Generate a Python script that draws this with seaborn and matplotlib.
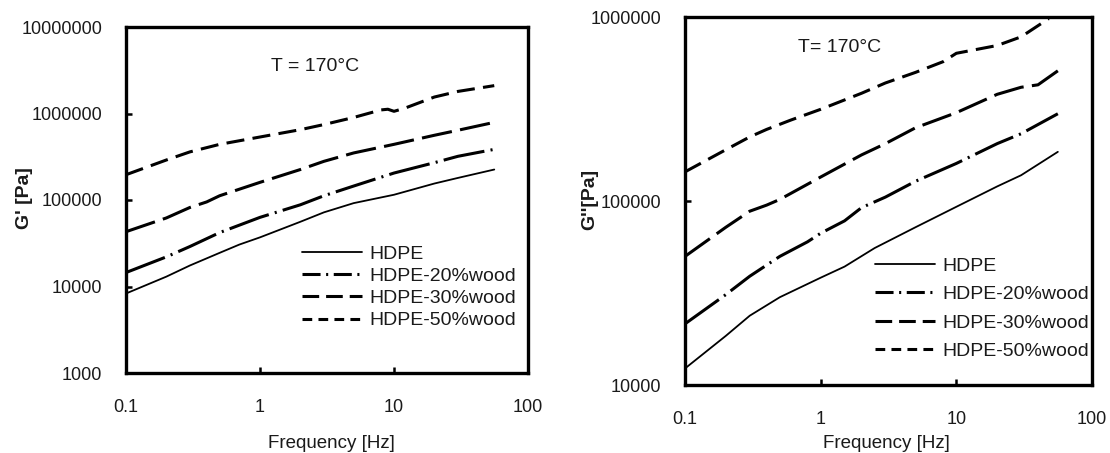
import numpy as np
import pandas as pd
import matplotlib
matplotlib.use("Agg")
import matplotlib.pyplot as plt
from matplotlib.lines import Line2D
import seaborn as sns

# ---------------- data ----------------
series_names = ["HDPE", "HDPE-20%wood", "HDPE-30%wood", "HDPE-50%wood"]

# Storage modulus G' (left panel)
gp_hdpe_f = [0.1, 0.2, 0.3, 0.5, 0.7, 1, 2, 3, 5, 10, 20, 30, 56]
gp_hdpe_v = [8300, 13000, 17500, 24500, 30500, 37000, 56000, 72000, 92000, 115000, 155000, 180000, 225000]
gp_20_f = [0.1, 0.2, 0.3, 0.5, 1, 2, 3, 5, 10, 20, 30, 56]
gp_20_v = [14500, 22000, 29000, 42000, 63000, 88000, 112000, 145000, 205000, 270000, 320000, 385000]
gp_30_f = [0.1, 0.2, 0.3, 0.4, 0.5, 1, 2, 3, 5, 10, 20, 30, 56]
gp_30_v = [43000, 62000, 82000, 95000, 112000, 160000, 225000, 280000, 350000, 440000, 560000, 640000, 790000]
gp_50_f = [0.1, 0.2, 0.3, 0.5, 1, 2, 3, 5, 8, 9, 10, 12, 20, 30, 56]
gp_50_v = [196000, 290000, 360000, 440000, 535000, 650000, 745000, 900000, 1100000, 1120000, 1060000, 1150000, 1550000, 1800000, 2100000]

# Loss modulus G'' (right panel)
gpp_hdpe_f = [0.1, 0.2, 0.3, 0.5, 1, 1.5, 2.5, 5, 10, 20, 30, 56]
gpp_hdpe_v = [12300, 18500, 23800, 30000, 38300, 44000, 55500, 72000, 93000, 120000, 138000, 185000]
gpp_20_f = [0.1, 0.2, 0.3, 0.5, 0.8, 1, 1.5, 2, 3, 5, 10, 20, 30, 56]
gpp_20_v = [21500, 31000, 39000, 50000, 60000, 66800, 78000, 92000, 105000, 128000, 160000, 205000, 232000, 298000]
gpp_30_f = [0.1, 0.2, 0.3, 0.4, 0.5, 1, 2, 3, 5, 10, 20, 30, 40, 56]
gpp_30_v = [50000, 72000, 88000, 95000, 102000, 135000, 178000, 205000, 250000, 302000, 380000, 415000, 428000, 510000]
gpp_50_f = [0.1, 0.2, 0.3, 0.4, 0.6, 1, 2, 3, 5, 8, 10, 20, 30, 48]
gpp_50_v = [144000, 190000, 223000, 245000, 275000, 315000, 385000, 438000, 500000, 572000, 635000, 700000, 780000, 980000]

x_ticks = [0.1, 1, 10, 100]
x_ticklabels = ["0.1", "1", "10", "100"]
left_yticks = [1000, 10000, 100000, 1000000, 10000000]
left_yticklabels = ["1000", "10000", "100000", "1000000", "10000000"]
right_yticks = [10000, 100000, 1000000]
right_yticklabels = ["10000", "100000", "1000000"]


def frame(fs, vs, name):
    return pd.DataFrame({"Frequency": fs, "Modulus": vs, "series": name})


left_df = pd.concat([frame(gp_hdpe_f, gp_hdpe_v, series_names[0]),
                     frame(gp_20_f, gp_20_v, series_names[1]),
                     frame(gp_30_f, gp_30_v, series_names[2]),
                     frame(gp_50_f, gp_50_v, series_names[3])])
right_df = pd.concat([frame(gpp_hdpe_f, gpp_hdpe_v, series_names[0]),
                      frame(gpp_20_f, gpp_20_v, series_names[1]),
                      frame(gpp_30_f, gpp_30_v, series_names[2]),
                      frame(gpp_50_f, gpp_50_v, series_names[3])])

# ---------------- style ----------------
sns.set_theme(style="white")
plt.rcParams["font.family"] = ["Liberation Sans", "DejaVu Sans"]
plt.rcParams["lines.scale_dashes"] = False

line_styles = {
    "HDPE": dict(ls="-", lw=1.3),
    "HDPE-20%wood": dict(ls=(0, (30, 4.5, 1.5, 4.5)), lw=2.2),
    "HDPE-30%wood": dict(ls=(0, (22, 6)), lw=2.2),
    "HDPE-50%wood": dict(ls=(0, (13, 6)), lw=2.2),
}
legend_styles = {
    "HDPE": dict(ls="-", lw=1.3),
    "HDPE-20%wood": dict(ls=(0, (13, 4, 1.5, 4)), lw=2.2),
    "HDPE-30%wood": dict(ls=(0, (12, 5)), lw=2.2),
    "HDPE-50%wood": dict(ls=(0, (7, 4.5)), lw=2.2),
}

fig = plt.figure(figsize=(11.1, 4.53), dpi=100)
axL = fig.add_axes([126 / 1110, 1 - 373 / 453, 402 / 1110, 346 / 453])
axR = fig.add_axes([685 / 1110, 1 - 385 / 453, 407 / 1110, 368 / 453])


def draw(ax, df, ylim, yticks, yticklabels, ylabel, annot, annot_xy,
         leg_anchor, leg_spacing, xlab_coords, ylab_coords):
    for name in series_names:
        sub = df[df["series"] == name]
        st = line_styles[name]
        sns.lineplot(data=sub, x="Frequency", y="Modulus", ax=ax, color="black",
                     linewidth=st["lw"], linestyle=st["ls"], legend=False,
                     estimator=None, sort=True)
    ax.set_xscale("log")
    ax.set_yscale("log")
    ax.set_xlim(0.1, 100)
    ax.set_ylim(*ylim)
    ax.set_xticks(x_ticks)
    ax.set_xticklabels(x_ticklabels)
    ax.set_yticks(yticks)
    ax.set_yticklabels(yticklabels)
    ax.minorticks_off()
    ax.tick_params(axis="both", which="major", direction="in", length=4, width=1.8,
                   color="black", labelsize=13, labelcolor="#1a1a1a",
                   left=True, bottom=True)
    ax.tick_params(axis="y", pad=17)
    ax.tick_params(axis="x", pad=19)
    for sp in ax.spines.values():
        sp.set_visible(True)
        sp.set_color("black")
        sp.set_linewidth(2.4)
    ax.set_xlabel("Frequency [Hz]", fontsize=13.5, color="#1a1a1a")
    ax.set_ylabel(ylabel, fontsize=14, fontweight="bold", color="#1a1a1a")
    ax.xaxis.set_label_coords(*xlab_coords)
    ax.yaxis.set_label_coords(*ylab_coords)
    ax.text(annot_xy[0], annot_xy[1], annot, transform=ax.transAxes,
            ha="center", va="center", fontsize=14, color="#1a1a1a")
    handles = [Line2D([], [], color="black", linewidth=legend_styles[n]["lw"],
                      linestyle=legend_styles[n]["ls"]) for n in series_names]
    ax.legend(handles, series_names, loc="upper left", bbox_to_anchor=leg_anchor,
              frameon=False, fontsize=14, handlelength=3.1, handletextpad=0.35,
              labelspacing=leg_spacing, borderpad=0, borderaxespad=0,
              labelcolor="#1a1a1a")


draw(axL, left_df, (1000, 10000000), left_yticks, left_yticklabels, "G' [Pa]",
     "T = 170\u00b0C", (0.47, 0.885), (0.438, 0.37), 0.24,
     (0.512, -0.178), (-0.232, 0.506))
draw(axR, right_df, (10000, 1000000), right_yticks, right_yticklabels, "G''[Pa]",
     "T= 170\u00b0C", (0.379, 0.918), (0.467, 0.348), 0.56,
     (0.496, -0.136), (-0.212, 0.503))

fig.savefig("out.png", dpi=100)
